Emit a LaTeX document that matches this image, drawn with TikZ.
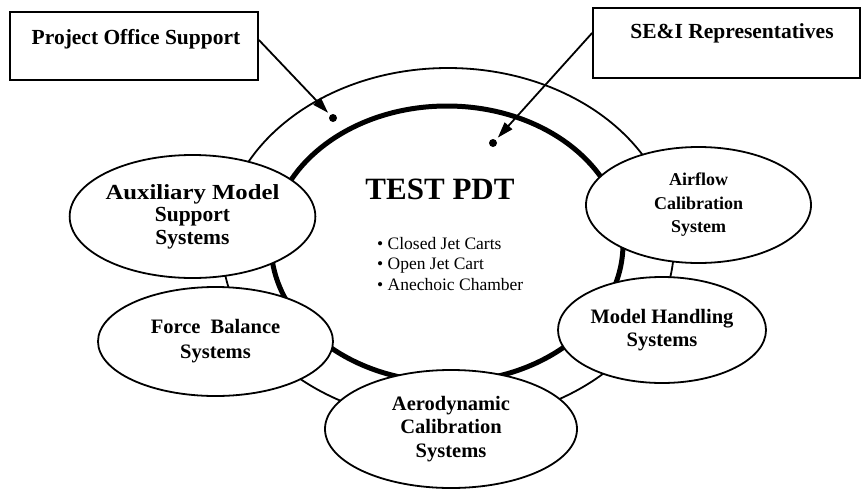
\documentclass[tikz,border=0pt]{standalone}
\usepackage{fontspec}
\setmainfont{Liberation Serif}
\usetikzlibrary{shapes.geometric,arrows.meta}
\begin{document}
\begin{tikzpicture}[x=1pt,y=-1pt,
  sat/.style={ellipse,draw,line width=1.8pt,fill=white,inner sep=0pt,align=center},
  ring/.style={ellipse,draw,inner sep=0pt},
  box/.style={draw,line width=1.8pt,inner sep=0pt},
  boxtext/.style={font=\bfseries\fontsize{21.5}{24}\selectfont,inner sep=0pt},
  dot/.style={circle,fill=black,inner sep=0pt,minimum size=8pt},
  arr/.style={line width=1.8pt,-{Triangle[length=16pt,width=10pt]},shorten >=3pt}
]
\fill[white] (0,0) rectangle (862,493);
\useasboundingbox (0,0) rectangle (862,493);

% rings
\node[ring,line width=1.8pt,minimum width=452pt,minimum height=354pt] (outer) at (448,245) {};
\node[ring,line width=5pt,minimum width=352pt,minimum height=276pt] (inner) at (447,244) {};

% centre text
\node[font=\bfseries\fontsize{31}{36}\selectfont,inner sep=0pt] (test) at (440,189) {TEST PDT};
\node[align=left,anchor=north west,inner sep=0pt,font=\fontsize{17.5}{20.5}\selectfont] (list) at (377,237)
  {• Closed Jet Carts\\• Open Jet Cart\\• Anechoic Chamber};

% satellite ellipses
\node[sat,minimum width=241pt,minimum height=123pt,font=\bfseries\fontsize{21.5}{22.5}\selectfont] (aux) at (192.5,216.5)
  {{\addfontfeature{FakeStretch=1.15}Auxiliary Model}\\Support\\Systems};
\node[sat,minimum width=235pt,minimum height=109pt,font=\bfseries\fontsize{20.5}{25}\selectfont] (force) at (215.5,341.5)
  {Force\ \ Balance\\Systems};
\node[sat,minimum width=252pt,minimum height=118pt,font=\bfseries\fontsize{20.5}{23.5}\selectfont] (aero) at (451,429)
  {Aerodynamic\\Calibration\\Systems};
\node[sat,minimum width=225pt,minimum height=116pt,font=\bfseries\fontsize{18}{23.5}\selectfont] (airflow) at (698.5,205)
  {Airflow\\Calibration\\System};
\node[sat,minimum width=208pt,minimum height=106pt,font=\bfseries\fontsize{20.5}{23}\selectfont] (model) at (662,330)
  {Model Handling\\Systems};

% boxes
\node[box,minimum width=248pt,minimum height=68pt] (pos) at (134,46) {};
\node[boxtext] (posl) at (136,39) {Project Office Support};
\node[box,minimum width=267pt,minimum height=70pt] (sei) at (726.5,43) {};
\node[boxtext] (seil) at (732,33) {SE\&I Representatives};

% dots and arrows
\node[dot] (d1) at (333,118) {};
\node[dot] (d2) at (493,143) {};
\draw[arr] ([yshift=6pt]pos.east) -- (d1);
\draw[arr] ([yshift=10pt]sei.west) -- (d2);
\end{tikzpicture}
\end{document}
